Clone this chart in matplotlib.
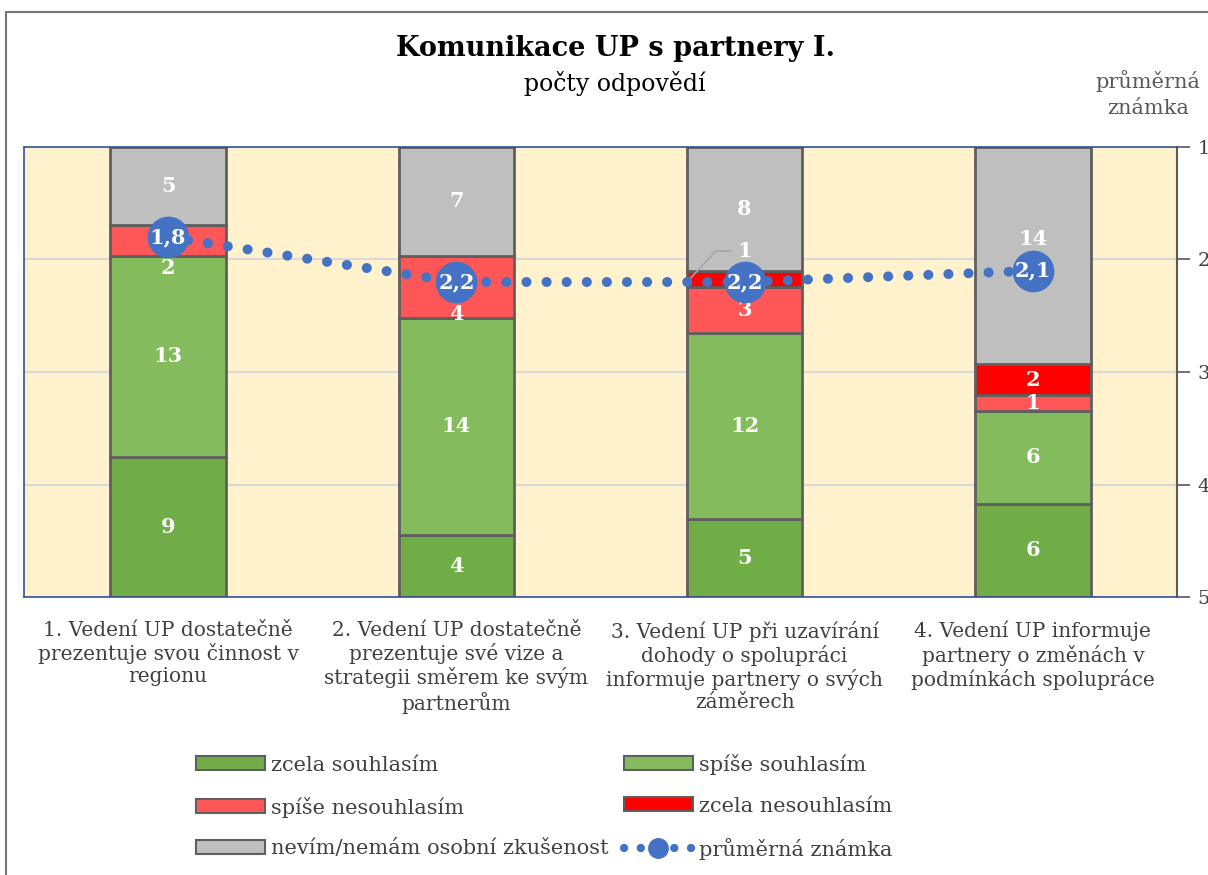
import matplotlib.pyplot as plt
import numpy as np
from matplotlib.patches import Patch, Rectangle
from matplotlib.lines import Line2D

plt.rcParams['font.family'] = ['DejaVu Serif']

categories = [
    "1. Vedení UP dostatečně\nprezentuje svou činnost v\nregionu",
    "2. Vedení UP dostatečně\nprezentuje své vize a\nstrategii směrem ke svým\npartnerům",
    "3. Vedení UP při uzavírání\ndohody o spolupráci\ninformuje partnery o svých\nzáměrech",
    "4. Vedení UP informuje\npartnery o změnách v\npodmínkách spolupráce",
]
series_names = ["zcela souhlasím", "spíše souhlasím", "spíše nesouhlasím",
                "zcela nesouhlasím", "nevím/nemám osobní zkušenost"]
zcela_souhlasim = [9, 4, 5, 6]
spise_souhlasim = [13, 14, 12, 6]
spise_nesouhlasim = [2, 4, 3, 1]
zcela_nesouhlasim = [0, 0, 1, 2]
nevim = [5, 7, 8, 14]
prumer = [1.8, 2.2, 2.2, 2.1]
prumer_labels = ["1,8", "2,2", "2,2", "2,1"]

colors = ["#70AD47", "#84BB5C", "#FF5757", "#FF0000", "#BFBFBF"]
edge = "#5f5f5f"
txt = "#404040"
dots = (0, (0.01, 2.0))

fig = plt.figure(figsize=(12.08, 8.75), dpi=100)
ax = fig.add_axes([24 / 1208, 1 - 597 / 875, 1153 / 1208, 450 / 875])

x = np.arange(len(categories))
data = [zcela_souhlasim, spise_souhlasim, spise_nesouhlasim, zcela_nesouhlasim, nevim]
total = np.sum(data, axis=0)
bottom = np.zeros(len(categories))
bars = []
for vals, c, name in zip(data, colors, series_names):
    ax.bar(x, vals, 0.4, bottom=bottom, color=c, edgecolor=edge, linewidth=2,
           label=name, zorder=2)
    bars.append((vals, bottom.copy()))
    bottom += np.array(vals)

# value labels (some nudged away from the markers like in the original)
nudges = {(2, 0): -20, (2, 1): -20, (4, 3): 12}
for si, (vals, bot) in enumerate(bars):
    for ci, v in enumerate(vals):
        if v == 0:
            continue
        if si == 3 and ci == 2:
            continue
        dy = nudges.get((si, ci), 0)
        ax.annotate(str(v), (x[ci], bot[ci] + v / 2), xytext=(0, dy),
                    textcoords="offset points", ha="center", va="center",
                    color="white", fontsize=15, fontweight="bold", zorder=6)

# the small "1" in bar 3 with a leader line
ci = 2
yb = bars[3][1][ci] + 0.5
ax.plot([x[ci] - 0.19, x[ci] - 0.1, x[ci] - 0.05], [yb, yb + 1.8, yb + 1.8],
        color="#A6A6A6", lw=1.2, zorder=5)
ax.text(x[ci], yb + 1.8, "1", ha="center", va="center", color="white",
        fontsize=15, fontweight="bold", zorder=6)

ax.set_xlim(-0.5, 3.5)
ax.set_ylim(0, total.max())
ax.set_yticks([])
ax.set_xticks(x)
ax.set_xticklabels(categories, fontsize=14.5, color=txt, linespacing=1.2)
ax.tick_params(axis="x", length=0, pad=17)
for s in ["left", "top", "bottom"]:
    ax.spines[s].set_color("#2F5597")
    ax.spines[s].set_linewidth(1.2)
ax.spines["right"].set_visible(False)

ax2 = ax.twinx()
ax2.set_ylim(5, 1)
ax2.set_yticks([1, 2, 3, 4, 5])
ax2.tick_params(axis="y", length=9, width=1.2, color="#595959", labelsize=14,
                labelcolor=txt, pad=6)
ax2.grid(axis="y", color="#D9D9D9", lw=1.5, zorder=0)
ax2.set_axisbelow(True)
for s in ["left", "top", "bottom"]:
    ax2.spines[s].set_visible(False)
ax2.spines["right"].set_color("#595959")
ax2.spines["right"].set_linewidth(1.5)
# gridlines sit behind the bars
ax.set_zorder(ax2.get_zorder() + 1)
ax.patch.set_visible(False)
ax2.patch.set_visible(True)
ax2.patch.set_facecolor("#FFF2CC")

ax3 = ax.twinx()
ax3.set_ylim(5, 1)
ax3.axis("off")
ax3.plot(x, prumer, color="#4472C4", lw=7.2, linestyle=dots,
         dash_capstyle="round", zorder=7)
ax3.plot(x, prumer, "o", color="#4472C4", ms=29, zorder=8)
for xi, p, lab in zip(x, prumer, prumer_labels):
    ax3.text(xi, p, lab, ha="center", va="center", color="white",
             fontsize=15, fontweight="bold", zorder=9)
ax3.set_xlim(-0.5, 3.5)

fig.text(615 / 1208, 1 - 48 / 875, "Komunikace UP s partnery I.", ha="center",
         va="center", fontsize=19.5, fontweight="bold", color="black")
fig.text(615 / 1208, 1 - 83 / 875, "počty odpovědí", ha="center", va="center",
         fontsize=17, color="black")
fig.text(1148 / 1208, 1 - 94 / 875, "průměrná\nznámka", ha="center", va="center",
         fontsize=15, color="#595959", linespacing=1.4)

handles = [Patch(facecolor=c, edgecolor=edge, linewidth=1.5) for c in colors]
handles.append(Line2D([0], [0], color="#4472C4", lw=6, linestyle=dots,
                      dash_capstyle="round", marker="o", ms=14))
labels = series_names + ["průměrná známka"]
order = [0, 2, 4, 1, 3, 5]
leg = fig.legend([handles[i] for i in order], [labels[i] for i in order],
                 loc="upper left", bbox_to_anchor=(177 / 1208, 1 - 735 / 875),
                 ncol=2, frameon=False, fontsize=15, handlelength=3.3,
                 handleheight=0.65, handletextpad=0.3, columnspacing=0.75,
                 labelspacing=1.05, numpoints=1)
for t in leg.get_texts():
    t.set_color(txt)

fig.patches.append(Rectangle((6 / 1208, -0.1), 1.2, 1.1 - 12 / 875,
                             transform=fig.transFigure, fill=False,
                             edgecolor="#767676", lw=1.5))

fig.savefig("out.png", dpi=100)
